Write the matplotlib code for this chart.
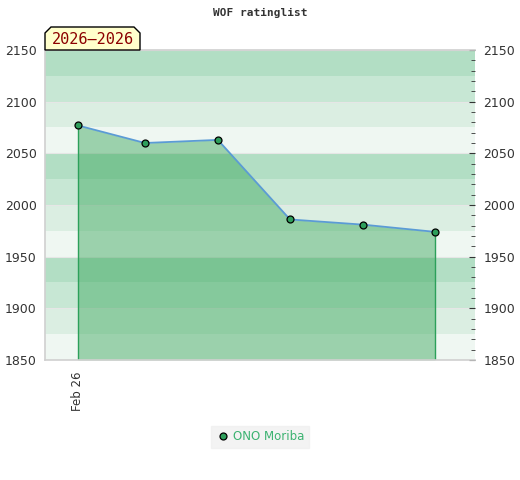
import matplotlib.pyplot as plt
from matplotlib.patches import Polygon

# ratings
x_pos = [0, 0.94, 1.96, 2.97, 3.99, 5.0]
ratings = [2077, 2060, 2063, 1986, 1981, 1974]
tick_pos = [0]
tick_labels = ['Feb 26']
player = 'ONO Moriba'
period = '2026\u20132026'

band_colors = ['#b2dec4', '#c7e7d4', '#dbeee2', '#eff7f2']
y_lo, y_hi = 1850, 2150

fig = plt.figure(figsize=(5.2, 4.8), dpi=100)
ax = fig.add_axes([45 / 520, 1 - 360 / 480, 430 / 520, 310 / 480])

# alternating background bands, 25 points each
for i, y in enumerate(range(y_hi, y_lo, -25)):
    ax.axhspan(y - 25, y, color=band_colors[i % 4], lw=0, zorder=0)
for y in range(y_lo, y_hi + 1, 50):
    ax.axhline(y, color='#e6e6e6', lw=0.8, zorder=0.5)

ax.fill_between(x_pos, ratings, y_lo, color='#39a65a', alpha=0.46, lw=0, zorder=1)
ax.vlines([x_pos[0], x_pos[-1]], y_lo, [ratings[0], ratings[-1]], color='#2ca05a', lw=1, zorder=2)
ax.plot(x_pos, ratings, color='#5b9bd5', lw=1.3, zorder=3)
ax.plot(x_pos, ratings, ls='none', marker='o', ms=5, mfc='#2e9e5b', mec='black',
        mew=0.9, zorder=4, label=player)

ax.set_xlim(-0.46, 5.56)
ax.set_ylim(y_lo, y_hi)
ax.set_xticks(tick_pos)
ax.set_xticklabels(tick_labels, rotation=90, fontsize=8.5, color='#333333')
ax.tick_params(axis='x', length=0, pad=8)

ax.set_yticks(range(y_lo, y_hi + 1, 50))
ax.set_yticks(range(y_lo, y_hi + 1, 10), minor=True)
ax.tick_params(axis='y', which='both', left=False, right=True, labelleft=True, labelright=True,
               direction='in', labelsize=9, labelcolor='#333333', color='#333333')
ax.tick_params(axis='y', which='major', length=4, pad=6)
ax.tick_params(axis='y', which='minor', length=3)

for s in ['top', 'left', 'bottom']:
    ax.spines[s].set_color('#d0d0d0')
    ax.spines[s].set_linewidth(1.2)
ax.spines['right'].set_visible(False)

fig.text(0.5, 1 - 13 / 480, 'WOF ratinglist', ha='center', va='center',
         family='DejaVu Sans Mono', fontweight='bold', fontsize=8, color='#333333')

# period badge with cut corners
bx0, bx1, by0, by1 = 45 / 520, 140 / 520, 1 - 50 / 480, 1 - 27 / 480
cx, cy = 6 / 520, 6 / 480
badge = Polygon([(bx0, by0), (bx0, by1 - cy), (bx0 + cx, by1), (bx1 - cx, by1),
                 (bx1, by1 - cy), (bx1, by0)], closed=True, transform=fig.transFigure,
                facecolor='#ffffcc', edgecolor='black', lw=1, zorder=5)
fig.patches.append(badge)
fig.text((bx0 + bx1) / 2, (by0 + by1) / 2 - 0.002, period, ha='center', va='center',
         family='DejaVu Sans Mono', fontsize=11, color='#8b0000', zorder=6)

leg = fig.legend(loc='center', bbox_to_anchor=(260 / 520, 1 - 437 / 480), frameon=True,
                 fontsize=8.5, handletextpad=0.3, handlelength=1.2, borderpad=0.35,
                 fancybox=False)
leg.get_frame().set_facecolor('#f0f0f0')
leg.get_frame().set_edgecolor('#f0f0f0')
for t in leg.get_texts():
    t.set_color('#3cb371')

fig.savefig('out.png', dpi=100)
